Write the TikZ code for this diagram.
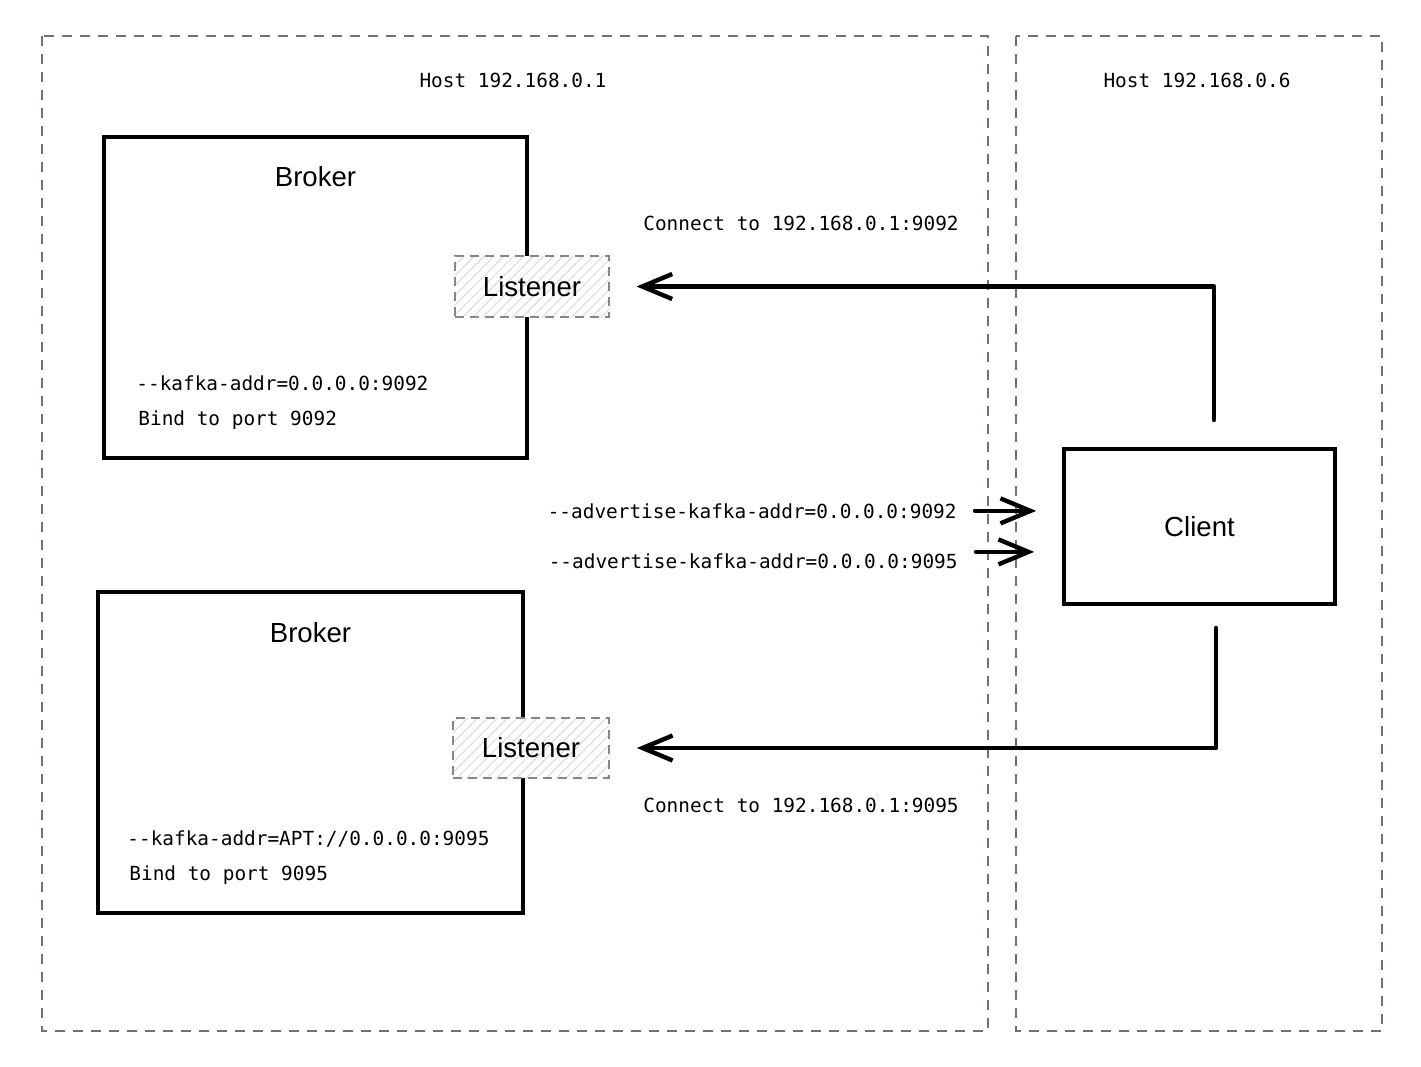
\documentclass[tikz,border=0pt]{standalone}
\usepackage{fontspec}
\setmainfont{Liberation Sans}
\setmonofont{DejaVu Sans Mono}
\usetikzlibrary{arrows.meta, positioning, patterns.meta}
\definecolor{hostgray}{RGB}{110,113,128}
\definecolor{hatchgray}{RGB}{218,218,218}

\begin{document}
\begin{tikzpicture}[
  x=0.5pt, y=-0.5pt,
  host/.style={draw=hostgray, line width=1pt, dash pattern=on 5pt off 4pt},
  box/.style={draw, line width=1.8pt, inner sep=0pt, font=\fontsize{13.8}{16}\selectfont},
  listener/.style={draw=hostgray!85, line width=0.9pt, dash pattern=on 4.5pt off 3pt,
    preaction={fill=white}, pattern={Lines[angle=45, distance=3.5pt, line width=0.5pt]},
    pattern color=hatchgray, minimum width=77pt, minimum height=30.5pt, inner sep=0pt,
    font=\fontsize{13.8}{16}\selectfont},
  mono/.style={inner sep=0pt, text height=7.1pt, text depth=2pt, font=\ttfamily\fontsize{9.7}{11}\selectfont},
  conn/.style={line width=2.2pt, line cap=round, line join=round, -{Straight Barb[length=15pt, width=12.5pt]}}]

  \useasboundingbox (0,0) rectangle (1421,1067);

  % the two hosts
  \draw[host] (42,36) rectangle (988,1031);
  \draw[host] (1016,36) rectangle (1382,1031);
  \node[mono, anchor=base] (h1) at (513,87) {Host 192.168.0.1};
  \node[mono, anchor=base] (h6) at (1197,87) {Host 192.168.0.6};

  % first broker
  \node[box, minimum width=211.5pt, minimum height=160.5pt] (b1) at (315.5,297.5) {};
  \node[box, draw=none, below=14.5pt of b1.north] (b1t) {Broker};
  \node[listener] (l1) at (532,286.5) {Listener};
  \node[mono, anchor=base west] (k1) at (136,390) {-{}-kafka-addr=0.0.0.0:9092};
  \node[mono, below right=8.4pt and 1pt of k1.south west] (p1) {Bind to port 9092};

  % second broker
  \node[box, minimum width=212.5pt, minimum height=160.5pt] (b2) at (310.5,752.5) {};
  \node[box, draw=none, below=15pt of b2.north] (b2t) {Broker};
  \node[listener, minimum width=78pt, minimum height=30pt] (l2) at (531,748) {Listener};
  \node[mono, anchor=base west] (k2) at (127,845) {-{}-kafka-addr=APT://0.0.0.0:9095};
  \node[mono, below right=8.4pt and 1pt of k2.south west] (p2) {Bind to port 9095};

  % client
  \node[box, minimum width=135.5pt, minimum height=77.5pt] (cl) at (1199.5,526.5) {Client};

  \node[mono, anchor=base] (c1) at (801,230) {Connect to 192.168.0.1:9092};
  \node[mono, anchor=base] (c2) at (801,812) {Connect to 192.168.0.1:9095};
  \node[mono, anchor=base east] (a1) at (957,518) {-{}-advertise-kafka-addr=0.0.0.0:9092};
  \node[mono, anchor=base east] (a2) at (958,568) {-{}-advertise-kafka-addr=0.0.0.0:9095};

  \coordinate (q1) at (1214,420);
  \coordinate (q2) at (1216,628);
  \draw[conn] (q1) |- ([xshift=13.5pt]l1.east);
  \draw[conn] (q2) |- ([xshift=13.5pt]l2.east);
  \draw[conn] ([xshift=9pt,yshift=1pt]a1.east) -- ([xshift=-13pt,yshift=1pt]cl.west |- a1.east);
  \draw[conn] ([xshift=9pt,yshift=5.5pt]a2.east) -- ([xshift=-14pt,yshift=5.5pt]cl.west |- a2.east);
\end{tikzpicture}
\end{document}
